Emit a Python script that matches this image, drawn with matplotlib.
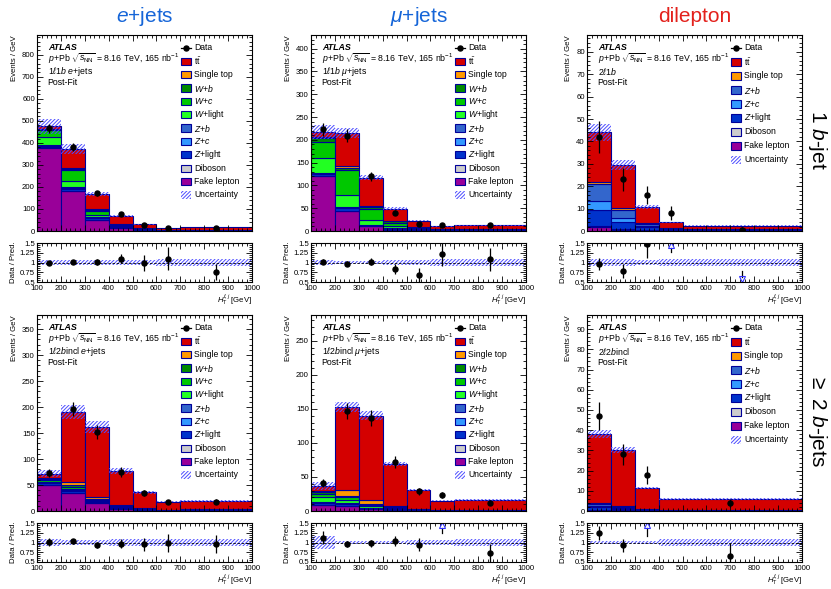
"""Post-fit H_T distributions for the p+Pb ttbar selection, split by channel and b-tag multiplicity."""

import matplotlib

matplotlib.use("Agg")
import matplotlib.pyplot as plt
import numpy as np
from matplotlib.patches import Rectangle
from matplotlib.ticker import FuncFormatter, MultipleLocator

plt.rcParams["font.family"] = ["Liberation Sans", "DejaVu Sans"]
plt.rcParams["mathtext.fontset"] = "custom"
plt.rcParams["mathtext.rm"] = "Liberation Sans"
plt.rcParams["mathtext.it"] = "Liberation Sans:italic"
plt.rcParams["mathtext.bf"] = "Liberation Sans:bold"
plt.rcParams["hatch.linewidth"] = 0.7

# bin edges in GeV
EDGES_LJ = [100, 200, 300, 400, 500, 600, 700, 1000]
EDGES_DL1 = [100, 200, 300, 400, 500, 1000]
EDGES_DL2 = [100, 200, 300, 400, 1000]

# e+jets, 1 b-jet (events / GeV)
EJ1_FAKE = [378, 180, 50, 15, 5, 2, 2]
EJ1_DIBOSON = [2, 2, 1, 0.5, 0.2, 0.1, 0.1]
EJ1_ZLIGHT = [6, 10, 6, 3, 1, 0.5, 0.6]
EJ1_ZC = [2, 4, 2, 1, 0.3, 0.2, 0.2]
EJ1_ZB = [2, 4, 3, 1, 0.5, 0.2, 0.3]
EJ1_WLIGHT = [35, 25, 12, 5, 1.5, 0.7, 0.8]
EJ1_WC = [32, 50, 15, 5, 2, 0.8, 1]
EJ1_WB = [5, 8, 6, 2, 1, 0.5, 0.6]
EJ1_SINGLETOP = [2, 4, 3, 1.5, 0.5, 0.3, 0.4]
EJ1_TTBAR = [11, 85, 70, 36, 18, 8.7, 12]
EJ1_DATA = [466, 380, 171, 77, 29.5, 15.4, 13.5]
EJ1_DATA_ERR = [20, 18, 12, 8, 6, 4, 3.6]
EJ1_UNC = [0.07, 0.06, 0.06, 0.07, 0.07, 0.1, 0.1]

# mu+jets, 1 b-jet
MJ1_FAKE = [120, 43, 10, 3, 1, 0.5, 0.5]
MJ1_DIBOSON = [1, 1, 0.5, 0.2, 0.1, 0.05, 0.05]
MJ1_ZLIGHT = [4, 6, 2, 1.5, 0.5, 0.2, 0.3]
MJ1_ZC = [1, 1, 0.5, 0.3, 0.2, 0.1, 0.1]
MJ1_ZB = [1, 1, 0.5, 0.5, 0.3, 0.15, 0.15]
MJ1_WLIGHT = [34, 26, 11, 5, 2, 0.8, 0.9]
MJ1_WC = [35, 56, 23, 8, 3, 1.2, 1.3]
MJ1_WB = [9, 5, 5, 3, 1.5, 0.5, 0.6]
MJ1_SINGLETOP = [2, 4, 3, 1, 0.5, 0.3, 0.4]
MJ1_TTBAR = [11, 72, 61.5, 26.5, 13.9, 6.7, 8.2]
MJ1_DATA = [223, 209, 120, 40.5, 15.5, 12.8, 13.5]
MJ1_DATA_ERR = [14, 14, 10, 6, 4, 3.2, 3.7]
MJ1_UNC = [0.07, 0.05, 0.05, 0.06, 0.07, 0.08, 0.08]

# dilepton, 1 b-jet
DL1_FAKE = [2, 0.5, 0.2, 0.1, 0.05]
DL1_DIBOSON = [0.3, 0.2, 0.1, 0.05, 0.03]
DL1_ZLIGHT = [7, 3.5, 1.5, 0.5, 0.3]
DL1_ZC = [4, 1.5, 0.5, 0.2, 0.1]
DL1_ZB = [7.5, 3.5, 1, 0.3, 0.15]
DL1_SINGLETOP = [1, 1, 0.3, 0.15, 0.07]
DL1_TTBAR = [22.2, 19.3, 7.2, 2.6, 1.7]
DL1_DATA = [42, 23, 16, 8, 0.6]
DL1_DATA_ERR = [7, 5, 4, 3, 1.3]
DL1_UNC = [0.09, 0.08, 0.07, 0.08, 0.08]

# e+jets, >= 2 b-jets
EJ2_FAKE = [50, 35, 15, 4, 1.5, 0.8, 0.8]
EJ2_DIBOSON = [0.5, 0.5, 0.3, 0.2, 0.1, 0.05, 0.05]
EJ2_ZLIGHT = [2.5, 3, 1.5, 1.5, 0.8, 0.4, 0.5]
EJ2_ZC = [0.5, 0.5, 0.3, 0.3, 0.2, 0.1, 0.1]
EJ2_ZB = [1, 1.5, 0.9, 0.5, 0.4, 0.2, 0.2]
EJ2_WLIGHT = [2, 2, 1, 0.5, 0.3, 0.15, 0.2]
EJ2_WC = [3, 4, 2, 1, 0.5, 0.3, 0.3]
EJ2_WB = [2.5, 3, 1.5, 0.8, 0.4, 0.2, 0.25]
EJ2_SINGLETOP = [1.5, 7, 5, 2, 1, 0.5, 0.6]
EJ2_TTBAR = [8.5, 134.5, 134.5, 66.2, 31.3, 15.3, 16]
EJ2_DATA = [73, 196, 152, 75, 35, 17.7, 18.2]
EJ2_DATA_ERR = [8, 14, 13, 9, 6, 4.2, 4.4]
EJ2_UNC = [0.1, 0.07, 0.07, 0.08, 0.08, 0.09, 0.1]

# mu+jets, >= 2 b-jets
MJ2_FAKE = [9, 7, 3, 1, 0.4, 0.2, 0.2]
MJ2_DIBOSON = [0.3, 0.3, 0.2, 0.1, 0.05, 0.03, 0.03]
MJ2_ZLIGHT = [2.5, 2.5, 1, 1.5, 0.5, 0.3, 0.3]
MJ2_ZC = [0.5, 0.5, 0.3, 0.3, 0.1, 0.05, 0.05]
MJ2_ZB = [1, 1, 0.5, 0.5, 0.2, 0.1, 0.1]
MJ2_WLIGHT = [7, 5, 2, 0.8, 0.3, 0.15, 0.15]
MJ2_WC = [5, 4, 2, 1, 0.4, 0.2, 0.2]
MJ2_WB = [3, 2, 1.5, 0.8, 0.3, 0.15, 0.15]
MJ2_SINGLETOP = [1, 8, 5, 1.5, 0.7, 0.4, 0.45]
MJ2_TTBAR = [7.7, 122.7, 124.5, 61.5, 27.55, 13.42, 14.37]
MJ2_DATA = [41.5, 147, 137, 72, 28.7, 23, 11.8]
MJ2_DATA_ERR = [6, 12, 12, 9, 5, 4.5, 3.6]
MJ2_UNC = [0.17, 0.05, 0.05, 0.05, 0.06, 0.06, 0.1]

# dilepton, >= 2 b-jets
DL2_FAKE = [0.3, 0.2, 0.1, 0.05]
DL2_DIBOSON = [0.2, 0.1, 0.05, 0.03]
DL2_ZLIGHT = [1.5, 0.7, 0.3, 0.15]
DL2_ZC = [0.5, 0.3, 0.1, 0.05]
DL2_ZB = [1, 0.7, 0.3, 0.12]
DL2_SINGLETOP = [0.5, 0.5, 0.2, 0.1]
DL2_TTBAR = [34, 27.5, 10.45, 5.5]
DL2_DATA = [47, 28, 18, 4]
DL2_DATA_ERR = [7, 5, 4.5, 2]
DL2_UNC = [0.05, 0.05, 0.05, 0.1]

COLORS = {
    "ttbar": "#d40000",
    "Single top": "#ff9900",
    "W+b": "#008a00",
    "W+c": "#00c800",
    "W+light": "#22ff22",
    "Z+b": "#3366cc",
    "Z+c": "#3399ff",
    "Z+light": "#0033cc",
    "Diboson": "#cccccc",
    "Fake lepton": "#990099",
}
LABELS = {
    "ttbar": r"$\mathrm{t\bar{t}}$",
    "Single top": "Single top",
    "W+b": r"$W$+$b$",
    "W+c": r"$W$+$c$",
    "W+light": r"$W$+light",
    "Z+b": r"$Z$+$b$",
    "Z+c": r"$Z$+$c$",
    "Z+light": r"$Z$+light",
    "Diboson": "Diboson",
    "Fake lepton": "Fake lepton",
}
EDGE = "#000099"
HATCH = "#4d4dff"
HATCH_STYLE = "/////////"
ARROW = "#3333ff"


def lj_stack(fake, dib, zl, zc, zb, wl, wc, wb, st, tt):
    return [("Fake lepton", fake), ("Diboson", dib), ("Z+light", zl), ("Z+c", zc), ("Z+b", zb),
            ("W+light", wl), ("W+c", wc), ("W+b", wb), ("Single top", st), ("ttbar", tt)]


def dl_stack(fake, dib, zl, zc, zb, st, tt):
    return [("Fake lepton", fake), ("Diboson", dib), ("Z+light", zl), ("Z+c", zc), ("Z+b", zb),
            ("Single top", st), ("ttbar", tt)]


PANELS = [
    dict(edges=EDGES_LJ, region=r"1$\ell$1$b$ $e$+jets", ymax=890, ystep=100,
         stack=lj_stack(EJ1_FAKE, EJ1_DIBOSON, EJ1_ZLIGHT, EJ1_ZC, EJ1_ZB, EJ1_WLIGHT, EJ1_WC, EJ1_WB, EJ1_SINGLETOP, EJ1_TTBAR),
         data=EJ1_DATA, err=EJ1_DATA_ERR, unc=EJ1_UNC),
    dict(edges=EDGES_LJ, region=r"1$\ell$1$b$ $\mu$+jets", ymax=430, ystep=50,
         stack=lj_stack(MJ1_FAKE, MJ1_DIBOSON, MJ1_ZLIGHT, MJ1_ZC, MJ1_ZB, MJ1_WLIGHT, MJ1_WC, MJ1_WB, MJ1_SINGLETOP, MJ1_TTBAR),
         data=MJ1_DATA, err=MJ1_DATA_ERR, unc=MJ1_UNC),
    dict(edges=EDGES_DL1, region=r"2$\ell$1$b$", ymax=87.5, ystep=10,
         stack=dl_stack(DL1_FAKE, DL1_DIBOSON, DL1_ZLIGHT, DL1_ZC, DL1_ZB, DL1_SINGLETOP, DL1_TTBAR),
         data=DL1_DATA, err=DL1_DATA_ERR, unc=DL1_UNC),
    dict(edges=EDGES_LJ, region=r"1$\ell$2$b$incl $e$+jets", ymax=377, ystep=50,
         stack=lj_stack(EJ2_FAKE, EJ2_DIBOSON, EJ2_ZLIGHT, EJ2_ZC, EJ2_ZB, EJ2_WLIGHT, EJ2_WC, EJ2_WB, EJ2_SINGLETOP, EJ2_TTBAR),
         data=EJ2_DATA, err=EJ2_DATA_ERR, unc=EJ2_UNC),
    dict(edges=EDGES_LJ, region=r"1$\ell$2$b$incl $\mu$+jets", ymax=288, ystep=50,
         stack=lj_stack(MJ2_FAKE, MJ2_DIBOSON, MJ2_ZLIGHT, MJ2_ZC, MJ2_ZB, MJ2_WLIGHT, MJ2_WC, MJ2_WB, MJ2_SINGLETOP, MJ2_TTBAR),
         data=MJ2_DATA, err=MJ2_DATA_ERR, unc=MJ2_UNC),
    dict(edges=EDGES_DL2, region=r"2$\ell$2$b$incl", ymax=97, ystep=10,
         stack=dl_stack(DL2_FAKE, DL2_DIBOSON, DL2_ZLIGHT, DL2_ZC, DL2_ZB, DL2_SINGLETOP, DL2_TTBAR),
         data=DL2_DATA, err=DL2_DATA_ERR, unc=DL2_UNC),
]

FS_TICK = 5.6
FS_TEXT = 6.3
FS_LEG = 6.2
W, H = 831, 589
COL_LEFT = [37, 311, 587]
ROW_MAIN_TOP = [35, 315]
MAIN_H, RATIO_H, GAP, AX_W = 196, 39, 12, 215


def style_axes(ax, ystep):
    ax.tick_params(which="both", direction="in", top=True, right=True, labelsize=FS_TICK, width=0.6, pad=1.5)
    ax.tick_params(which="major", length=4)
    ax.tick_params(which="minor", length=2)
    ax.xaxis.set_major_locator(MultipleLocator(100))
    ax.xaxis.set_minor_locator(MultipleLocator(20))
    ax.yaxis.set_major_locator(MultipleLocator(ystep))
    ax.yaxis.set_minor_locator(MultipleLocator(ystep / 5))
    for spine in ax.spines.values():
        spine.set_linewidth(0.8)


def draw_legend(ax, stack):
    """ROOT-style legend: fixed row pitch, box swatches with the stack outline colour."""
    entries = [("Data", None)] + [(LABELS[n], n) for n, _ in reversed(stack)] + [("Uncertainty", "unc")]
    pitch = (13.35 if len(entries) > 10 else 14.0) / MAIN_H
    y0 = 1 - 13.0 / MAIN_H
    x0, bw, bh = 0.668, 0.046, 7.3 / MAIN_H
    for i, (label, key) in enumerate(entries):
        y = y0 - i * pitch
        if key is None:
            ax.plot([x0, x0 + bw], [y, y], color="black", lw=0.9, transform=ax.transAxes, clip_on=False)
            ax.plot([x0 + bw / 2], [y], marker="o", ms=3.6, color="black", transform=ax.transAxes, clip_on=False)
        elif key == "unc":
            ax.add_patch(Rectangle((x0, y - bh / 2), bw, bh, transform=ax.transAxes, facecolor="none",
                                   edgecolor=HATCH, hatch=HATCH_STYLE, linewidth=0, clip_on=False))
        else:
            ax.add_patch(Rectangle((x0, y - bh / 2), bw, bh, transform=ax.transAxes, facecolor=COLORS[key],
                                   edgecolor=EDGE, linewidth=0.8, clip_on=False))
        ax.text(x0 + bw + 0.018, y, label, transform=ax.transAxes, fontsize=FS_LEG, va="center")


def draw_panel(fig, col, row, panel):
    left = COL_LEFT[col] / W
    top = ROW_MAIN_TOP[row]
    ax = fig.add_axes([left, 1 - (top + MAIN_H) / H, AX_W / W, MAIN_H / H])
    rax = fig.add_axes([left, 1 - (top + MAIN_H + GAP + RATIO_H) / H, AX_W / W, RATIO_H / H], sharex=ax)

    edges = np.asarray(panel["edges"], float)
    widths = np.diff(edges)
    centers = edges[:-1] + widths / 2
    data = np.asarray(panel["data"], float)
    err = np.asarray(panel["err"], float)
    frac = np.asarray(panel["unc"], float)

    bottom = np.zeros(len(widths))
    for name, values in panel["stack"]:
        values = np.asarray(values, float)
        ax.bar(edges[:-1], values, width=widths, bottom=bottom, align="edge",
               color=COLORS[name], edgecolor=EDGE, linewidth=0.8)
        bottom = bottom + values
    total = bottom
    unc = total * frac
    ax.bar(edges[:-1], 2 * unc, width=widths, bottom=total - unc, align="edge",
           facecolor="none", edgecolor=HATCH, hatch=HATCH_STYLE, linewidth=0)
    ax.errorbar(centers, data, yerr=err, fmt="o", color="black", ms=3.6, elinewidth=0.9, capsize=0)

    ax.set_xlim(100, 1000)
    ax.set_ylim(0, panel["ymax"])
    style_axes(ax, panel["ystep"])
    ax.tick_params(labelbottom=False)
    ax.set_ylabel("Events / GeV", loc="top", fontsize=FS_TICK, labelpad=3)

    ax.text(0.05, 0.937, "ATLAS", transform=ax.transAxes, fontsize=6.4, fontweight="bold",
            fontstyle="italic", va="center")
    ax.text(0.05, 0.876, r"$p$+Pb $\sqrt{s_{\mathrm{NN}}}$ = 8.16 TeV, 165 nb$^{-1}$",
            transform=ax.transAxes, fontsize=FS_TEXT, va="center")
    ax.text(0.05, 0.813, panel["region"], transform=ax.transAxes, fontsize=FS_TEXT, va="center")
    ax.text(0.05, 0.759, "Post-Fit", transform=ax.transAxes, fontsize=FS_TEXT, va="center")
    draw_legend(ax, panel["stack"])

    # ratio panel
    ratio = data / total
    rerr = err / total
    rax.bar(edges[:-1], 2 * frac, width=widths, bottom=1 - frac, align="edge",
            facecolor="none", edgecolor=HATCH, hatch=HATCH_STYLE, linewidth=0)
    rax.axhline(1, color="black", ls=(0, (3, 2)), lw=0.6)
    inside = (ratio >= 0.5) & (ratio <= 1.5)
    rax.errorbar(centers[inside], ratio[inside], yerr=rerr[inside], fmt="o", color="black",
                 ms=3.6, elinewidth=0.9, capsize=0)
    high = ratio > 1.5
    for x, low in zip(centers[high], (ratio - rerr)[high]):
        if low < 1.37:
            rax.plot([x, x], [low, 1.37], color="black", lw=0.9)
    rax.plot(centers[high], np.full(high.sum(), 1.44), ls="none", marker="^", ms=4,
             mfc="none", mec=ARROW, mew=0.8)
    lowp = ratio < 0.5
    for x, up in zip(centers[lowp], (ratio + rerr)[lowp]):
        if up > 0.63:
            rax.plot([x, x], [0.63, up], color="black", lw=0.9)
    rax.plot(centers[lowp], np.full(lowp.sum(), 0.57), ls="none", marker="v", ms=4,
             mfc="none", mec=ARROW, mew=0.8)

    rax.set_ylim(0.5, 1.5)
    style_axes(rax, 0.25)
    rax.yaxis.set_minor_locator(MultipleLocator(0.05))
    rax.yaxis.set_major_formatter(FuncFormatter(lambda v, _: f"{v:g}"))
    rax.tick_params(axis="x", pad=2.5)
    rax.set_ylabel("Data / Pred.", fontsize=FS_TICK, labelpad=2)
    rax.set_xlabel(r"$H_{\mathrm{T}}^{\ell,j}$ [GeV]", loc="right", fontsize=FS_TICK, labelpad=0.2)


def main() -> None:
    fig = plt.figure(figsize=(W / 100, H / 100), dpi=100)
    for i, panel in enumerate(PANELS):
        draw_panel(fig, i % 3, i // 3, panel)

    title_y = 1 - 17 / H
    fig.text((COL_LEFT[0] + AX_W / 2) / W, title_y, r"$e$+jets", color="#1565d8", fontsize=15, ha="center", va="center")
    fig.text((COL_LEFT[1] + AX_W / 2) / W, title_y, r"$\mu$+jets", color="#1565d8", fontsize=15, ha="center", va="center")
    fig.text((COL_LEFT[2] + AX_W / 2) / W, title_y, "dilepton", color="#e3211c", fontsize=15, ha="center", va="center")
    fig.text(818 / W, 1 - 140 / H, r"1 $b$-jet", fontsize=15, rotation=270, ha="center", va="center")
    fig.text(818 / W, 1 - 420 / H, r"$\geq$ 2 $b$-jets", fontsize=15, rotation=270, ha="center", va="center")

    fig.savefig("out.png", dpi=100)
    plt.close(fig)


if __name__ == "__main__":
    main()
